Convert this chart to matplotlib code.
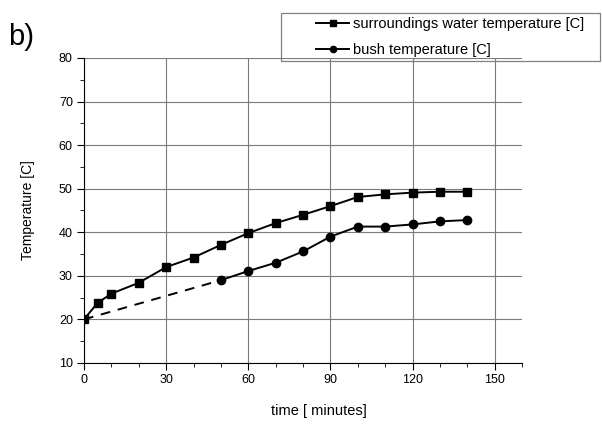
import matplotlib.pyplot as plt
from matplotlib.patches import Rectangle
from matplotlib.ticker import MultipleLocator

plt.rcParams['font.family'] = ['Liberation Sans', 'DejaVu Sans']

# surroundings water temperature
time_water = [0, 5, 10, 20, 30, 40, 50, 60, 70, 80, 90, 100, 110, 120, 130, 140]
temp_water = [20, 23.8, 25.9, 28.4, 32.0, 34.2, 37.1, 39.8, 42.1, 44.0, 46.0, 48.1, 48.7, 49.1, 49.3, 49.3]

# bush temperature (measured from 50 min, dashed assumed start)
time_bush = [50, 60, 70, 80, 90, 100, 110, 120, 130, 140]
temp_bush = [29.0, 31.1, 33.0, 35.6, 39.0, 41.3, 41.3, 41.8, 42.5, 42.8]
time_bush_start = [0, 50]
temp_bush_start = [20, 29.0]

fig = plt.figure(figsize=(6.02, 4.28), dpi=100)
ax = fig.add_axes([0.1395, 0.152, 0.728, 0.7125])

ax.plot(time_water, temp_water, color='black', lw=1.4, marker='s', ms=5.5,
        label='surroundings water temperature [C]')
ax.plot(time_bush, temp_bush, color='black', lw=1.4, marker='o', ms=6,
        label='bush temperature [C]')
ax.plot(time_bush_start, temp_bush_start, color='black', lw=1.4, ls=(0, (5, 4)))

ax.set_xlim(0, 160)
ax.set_ylim(10, 80)
ax.set_xticks([0, 30, 60, 90, 120, 150])
ax.set_yticks([10, 20, 30, 40, 50, 60, 70, 80])
ax.xaxis.set_minor_locator(MultipleLocator(10))
ax.yaxis.set_minor_locator(MultipleLocator(5))
ax.grid(True, which='major', color='#7a7a7a', lw=0.8)
ax.set_axisbelow(True)
ax.spines['top'].set_visible(False)
ax.spines['right'].set_visible(False)
ax.tick_params(which='major', direction='out', length=5, labelsize=9, pad=3)
ax.tick_params(which='minor', direction='out', length=3)

ax.set_xlabel('time [ minutes]', fontsize=10.5)
ax.xaxis.set_label_coords(0.535, -0.135)
ax.set_ylabel('Temperature [C]', fontsize=10)
ax.yaxis.set_label_coords(-0.112, 0.5)

fig.text(0.014, 0.895, 'b)', fontsize=21)

# legend frame drawn separately, wider than the entries
fig.patches.append(Rectangle((0.467, 0.8575), 0.53, 0.112, transform=fig.transFigure,
                             fill=False, edgecolor='#808080', lw=0.9))
ax.legend(loc='upper left', bbox_to_anchor=(0.525, 0.961), bbox_transform=fig.transFigure,
          fontsize=10.5, frameon=False, handlelength=2.26, borderpad=0,
          labelspacing=0.85, handletextpad=0.25, borderaxespad=0, markerscale=0.75)

fig.savefig('out.png', dpi=100)
